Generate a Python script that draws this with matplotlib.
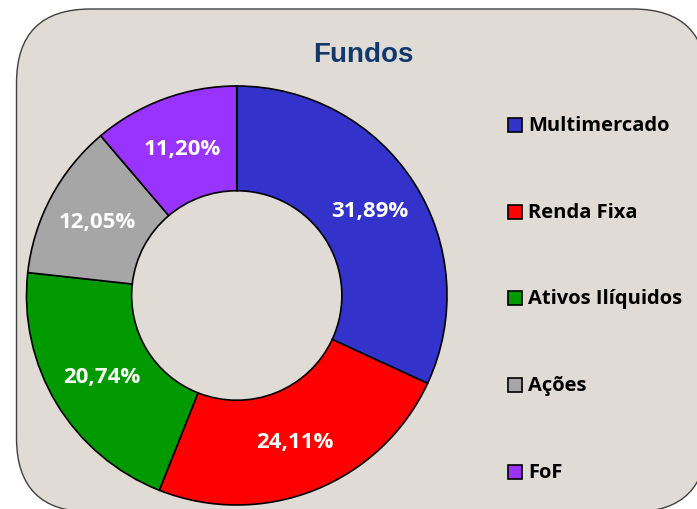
import matplotlib
matplotlib.use("Agg")
import matplotlib.pyplot as plt
from matplotlib.patches import FancyBboxPatch, Rectangle

categories = ["Multimercado", "Renda Fixa", "Ativos Ilíquidos", "Ações", "FoF"]
shares = [31.89, 24.11, 20.74, 12.05, 11.20]
colors = ["#3333CC", "#FF0000", "#009900", "#A6A6A6", "#9933FF"]

W, H = 697, 510
bg = "#E0DBD5"

fig = plt.figure(figsize=(W / 100, H / 100), dpi=100)
fig.patch.set_facecolor("white")

# panel with rounded corners, in pixel units
back = fig.add_axes([0, 0, 1, 1])
back.set_xlim(0, W)
back.set_ylim(0, H)
back.axis("off")
back.add_patch(FancyBboxPatch((16.5, -3), 707 - 16.5, 503,
                              boxstyle="round,pad=0,rounding_size=74",
                              facecolor=bg, edgecolor="#404040", linewidth=1.0))

fig.text(363 / W, 1 - 62 / H, "Fundos", ha="center", va="baseline",
         fontsize=20, fontweight="bold", color="#10386B",
         family="Liberation Sans")

# donut
ax = fig.add_axes([26.5 / W, 4 / H, 420.5 / W, 419 / H])
ax.set_facecolor("none")
wedges, _, autotexts = ax.pie(
    shares, colors=colors, startangle=90, counterclock=False,
    radius=1, pctdistance=0.75,
    autopct=lambda p: f"{p:.2f}%".replace(".", ","),
    wedgeprops=dict(width=0.5, edgecolor="black", linewidth=1.2),
    textprops=dict(color="white", fontsize=16, fontweight="bold",
                   family="Open Sans"),
)
ax.set_xlim(-1, 1)
ax.set_ylim(-1, 1)
ax.set_aspect("auto")
ax.axis("off")

# legend on the right
row_y = [126, 213, 299, 386, 473]
for name, col, y in zip(categories, colors, row_y):
    back.add_patch(Rectangle((508, H - y - 7), 14, 14, facecolor=col,
                             edgecolor="black", linewidth=1.2))
    back.text(528, H - y, name, ha="left", va="center", fontsize=14.5,
              fontweight="bold", color="black", family="Open Sans")

fig.savefig("out.png", dpi=100, facecolor=fig.get_facecolor())
